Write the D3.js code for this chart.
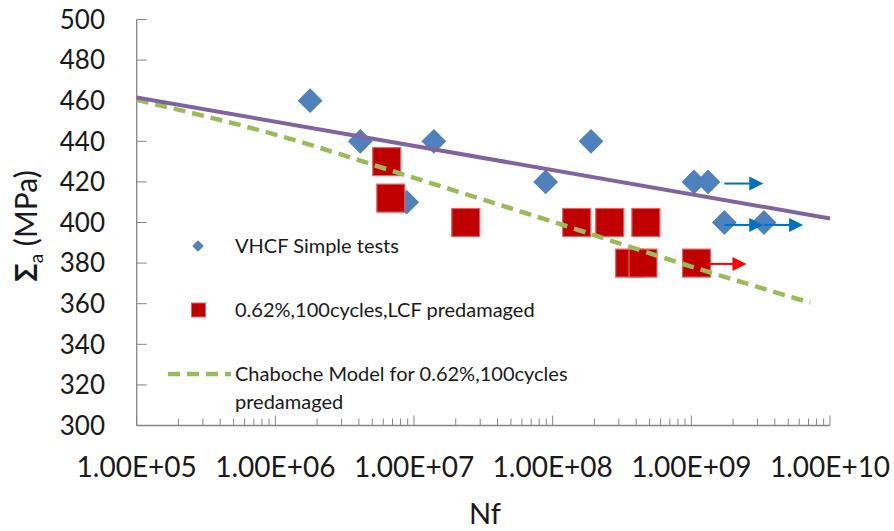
<!DOCTYPE html>
<html>
<head>
<meta charset="utf-8">
<script src="https://cdn.jsdelivr.net/npm/d3@7"></script>
<style>
  html, body { margin: 0; padding: 0; background: #fff; }
  svg { display: block; font-family: Lato, "Open Sans", sans-serif; }
</style>
</head>
<body>
<svg id="chart" width="894" height="531"></svg>
<script>
// Axis ticks
const xDecades = [1e5, 1e6, 1e7, 1e8, 1e9, 1e10];
const xTickLabels = ["1.00E+05", "1.00E+06", "1.00E+07", "1.00E+08", "1.00E+09", "1.00E+10"];
const yTicks = [300, 320, 340, 360, 380, 400, 420, 440, 460, 480, 500];

// VHCF simple tests (cycles to failure, stress amplitude in MPa)
const vhcfN = [1.78e6, 4.1e6, 1.39e7, 8.85e6, 8.9e7, 1.89e8, 1.045e9, 1.32e9, 1.73e9, 3.34e9];
const vhcfS = [460, 440, 440, 410, 420, 440, 420, 420, 400, 400];

// 0.62%, 100 cycles LCF predamaged specimens
const lcfN = [6.35e6, 6.8e6, 2.36e7, 1.49e8, 2.58e8, 4.7e8, 3.59e8, 4.48e8, 1.09e9];
const lcfS = [430, 412, 400, 400, 400, 400, 380, 380, 380];

// Fatigue curve through the VHCF tests
const basquinN = [1e5, 1e10];
const basquinS = [461.6, 402];

// Chaboche model prediction for the predamaged material
const chabocheN = [1e5, 1e6, 1e7, 1e8, 1e9, 7.2e9];
const chabocheS = [460.4, 443.3, 422, 400.4, 378.3, 360.5];

// Run-out arrows (start cycles, end cycles, stress, series)
const runoutStart = [1.73e9, 1.73e9, 3.34e9, 1.29e9];
const runoutEnd   = [3.3e9, 3.3e9, 6.4e9, 2.5e9];
const runoutS     = [419.2, 398.8, 398.8, 379.6];
const runoutKind  = ["vhcf", "vhcf", "vhcf", "lcf"];

const legendLabels = ["VHCF Simple tests", "0.62%,100cycles,LCF predamaged",
                      "Chaboche Model for 0.62%,100cycles", "predamaged"];

const svg = d3.select("#chart");
const axisColor = "#868686";
const textColor = "#1a1a1a";

const x = d3.scaleLog().domain([1e5, 1e10]).range([136.7, 830]);
const y = d3.scaleLinear().domain([300, 500]).range([425.5, 19.5]);

// ---- axes ----
const gx = svg.append("g");
gx.append("line")
  .attr("x1", x(1e5)).attr("x2", x(1e10))
  .attr("y1", y(300)).attr("y2", y(300))
  .attr("stroke", axisColor).attr("stroke-width", 1.3);

const minorTicks = [];
xDecades.slice(0, -1).forEach(d => { for (let k = 2; k <= 9; k++) minorTicks.push(d * k); });
gx.selectAll("line.minor").data(minorTicks).join("line")
  .attr("class", "minor")
  .attr("x1", d => x(d)).attr("x2", d => x(d))
  .attr("y1", y(300)).attr("y2", y(300) - 7)
  .attr("stroke", axisColor).attr("stroke-width", 1);
gx.selectAll("line.major").data(xDecades).join("line")
  .attr("class", "major")
  .attr("x1", d => x(d)).attr("x2", d => x(d))
  .attr("y1", y(300)).attr("y2", y(300) - 10)
  .attr("stroke", axisColor).attr("stroke-width", 1);
gx.selectAll("text").data(xDecades).join("text")
  .attr("x", d => x(d)).attr("y", 476.5)
  .attr("text-anchor", "middle")
  .attr("font-size", 28).attr("fill", textColor)
  .text((d, i) => xTickLabels[i]);

const gy = svg.append("g");
gy.append("line")
  .attr("x1", x(1e5)).attr("x2", x(1e5))
  .attr("y1", y(300)).attr("y2", y(500))
  .attr("stroke", axisColor).attr("stroke-width", 1.3);
gy.selectAll("line.tick").data(yTicks).join("line")
  .attr("class", "tick")
  .attr("x1", x(1e5)).attr("x2", x(1e5) + 10)
  .attr("y1", d => y(d)).attr("y2", d => y(d))
  .attr("stroke", axisColor).attr("stroke-width", 1);
gy.selectAll("text").data(yTicks).join("text")
  .attr("x", 105).attr("y", d => y(d))
  .attr("dy", "0.36em")
  .attr("text-anchor", "end")
  .attr("font-size", 26).attr("fill", textColor)
  .text(d => d);

// axis titles
svg.append("text")
  .attr("x", 485).attr("y", 524)
  .attr("text-anchor", "middle")
  .attr("font-size", 29).attr("fill", textColor)
  .text("Nf");

const yTitle = svg.append("text")
  .attr("transform", "translate(37,226) rotate(-90)")
  .attr("text-anchor", "middle")
  .attr("font-size", 30).attr("fill", textColor);
yTitle.append("tspan").attr("font-weight", 700).text("Σ");
yTitle.append("tspan").attr("font-size", 19).attr("dy", 6).text("a");
yTitle.append("tspan").attr("dy", -6).text("  (MPa)");

// ---- data markers ----
const diamond = d3.symbol().type(d3.symbolDiamond2).size(392);

svg.append("g").selectAll("path").data(vhcfN).join("path")
  .attr("d", diamond)
  .attr("transform", (d, i) => `translate(${x(d)},${y(vhcfS[i])})`)
  .attr("fill", "#4F81BD");

const sq = 28;
svg.append("g").selectAll("rect").data(lcfN).join("rect")
  .attr("x", d => x(d) - sq / 2)
  .attr("y", (d, i) => y(lcfS[i]) - sq / 2)
  .attr("width", sq).attr("height", sq)
  .attr("fill", "#C00000")
  .attr("stroke", "#E06666").attr("stroke-width", 1.2);

// ---- curves ----
const chabocheLine = d3.line()
  .x((d, i) => x(d)).y((d, i) => y(chabocheS[i]))
  .curve(d3.curveMonotoneX);
svg.append("path")
  .attr("d", chabocheLine(chabocheN))
  .attr("fill", "none")
  .attr("stroke", "#9BBB59").attr("stroke-width", 4.5)
  .attr("stroke-dasharray", "12,7");

const basquinLine = d3.line()
  .x(d => x(d)).y((d, i) => y(basquinS[i]));
svg.append("path")
  .attr("d", basquinLine(basquinN))
  .attr("fill", "none")
  .attr("stroke", "#8064A2").attr("stroke-width", 4);

// ---- run-out arrows ----
const arrowColor = { vhcf: "#0070C0", lcf: "#FF0000" };
const head = 14, halfW = 7;
const ga = svg.append("g");
runoutStart.forEach((n0, i) => {
  const x0 = x(n0), x1 = x(runoutEnd[i]), yy = y(runoutS[i]);
  const c = arrowColor[runoutKind[i]];
  ga.append("line")
    .attr("x1", x0).attr("x2", x1 - head + 1)
    .attr("y1", yy).attr("y2", yy)
    .attr("stroke", c).attr("stroke-width", 2);
  ga.append("path")
    .attr("d", `M${x1},${yy} L${x1 - head},${yy - halfW} L${x1 - head},${yy + halfW} Z`)
    .attr("fill", c);
});

// ---- legend ----
const lg = svg.append("g");
lg.append("path")
  .attr("d", d3.symbol().type(d3.symbolDiamond2).size(85))
  .attr("transform", "translate(198,246)")
  .attr("fill", "#4F81BD");
lg.append("rect")
  .attr("x", 191.5).attr("y", 303).attr("width", 14).attr("height", 14)
  .attr("fill", "#C00000").attr("stroke", "#E06666").attr("stroke-width", 1);
lg.append("line")
  .attr("x1", 168).attr("x2", 231).attr("y1", 374).attr("y2", 374)
  .attr("stroke", "#9BBB59").attr("stroke-width", 4.5)
  .attr("stroke-dasharray", "12,7");
const legendY = [246, 310, 374, 402];
lg.selectAll("text").data(legendLabels).join("text")
  .attr("x", 235).attr("y", (d, i) => legendY[i])
  .attr("dy", "0.36em")
  .attr("font-size", 20).attr("fill", textColor)
  .text(d => d);
</script>
</body>
</html>
